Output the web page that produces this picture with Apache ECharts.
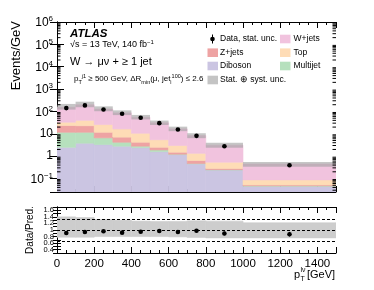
<!DOCTYPE html>
<html><head><meta charset="utf-8">
<script src="https://cdn.jsdelivr.net/npm/echarts@6/dist/echarts.min.js"></script>
<style>html,body{margin:0;padding:0;background:#fff}#c{width:374px;height:290px}</style>
</head><body><div id="c"></div>
<script>
// ---- data (Events/GeV per bin) ----
const binEdges = [0, 100, 200, 300, 400, 500, 600, 700, 800, 1000, 1500];
const dataVals = [141, 186, 123, 79, 52, 30, 15.6, 8.1, 2.78, 0.39];
const dataRelErr = [0.015, 0.015, 0.015, 0.02, 0.02, 0.025, 0.03, 0.05, 0.06, 0.08];
const diboson = [2.5, 3.8, 3.3, 2.8, 2.4, 1.6, 1.17, 0.45, 0.24, 0.045];
const multijet = [9.2, 7.9, 3.3, 1.4, 0.4, 0.3, 0.05, 0.02, 0.01, 0.002];
const zjets = [11.7, 11.3, 5.1, 2.9, 1.4, 0.6, 0.28, 0.17, 0.03, 0.005];
const topQuark = [9.6, 17, 14.3, 9.4, 6.4, 2.9, 1.5, 0.7, 0.26, 0.035];
const wjets = [122, 158, 102, 69.5, 44.4, 25.6, 13.6, 6.95, 2.57, 0.36];
const uncUp = [0.40, 0.38, 0.32, 0.30, 0.27, 0.26, 0.26, 0.28, 0.27, 0.22];
const uncDn = [0.22, 0.22, 0.20, 0.20, 0.20, 0.20, 0.21, 0.23, 0.24, 0.24];
const xTickLabels = [0, 200, 400, 600, 800, 1000, 1200, 1400];
const ratioRefLines = [0.67, 1, 1.33];

const FF = '"Liberation Sans", Arial, Helvetica, sans-serif';
const yMin = 0.025, yMax = 1e6;
const nb = dataVals.length;

function makeRect(fill, stroke) {
  return function (params, api) {
    const p0 = api.coord([api.value(0), api.value(3)]);
    const p1 = api.coord([api.value(1), api.value(2)]);
    const st = { fill: fill };
    if (stroke) { st.stroke = fill; st.lineWidth = 0.6; }
    return { type: 'rect', shape: { x: p0[0], y: p0[1], width: p1[0] - p0[0], height: p1[1] - p0[1] }, style: st };
  };
}
function pointItem(params, api) {
  const c = api.coord([api.value(0), api.value(1)]);
  const a = api.coord([api.value(0), api.value(2)]);
  const b = api.coord([api.value(0), api.value(3)]);
  return { type: 'group', children: [
    { type: 'line', shape: { x1: c[0], y1: a[1], x2: c[0], y2: b[1] }, style: { stroke: '#000', lineWidth: 1 } },
    { type: 'circle', shape: { cx: c[0], cy: c[1], r: 2.3 }, style: { fill: '#000' } }
  ]};
}

const layers = [
  { name: 'Diboson', vals: diboson, color: '#cbc5e2' },
  { name: 'Multijet', vals: multijet, color: '#b6e0bd' },
  { name: 'Z+jets', vals: zjets, color: '#eea3a3' },
  { name: 'Top', vals: topQuark, color: '#fedcb6' },
  { name: 'W+jets', vals: wjets, color: '#f1c3de' }
];
const cum = new Array(nb).fill(0);
const series = [];
layers.forEach((L, li) => {
  const d = [];
  for (let i = 0; i < nb; i++) {
    const lo = li === 0 ? yMin : cum[i];
    cum[i] += L.vals[i];
    d.push([binEdges[i], binEdges[i + 1], lo, cum[i]]);
  }
  series.push({ type: 'custom', name: L.name, xAxisIndex: 0, yAxisIndex: 0, renderItem: makeRect(L.color, true), data: d, z: 2, clip: true, silent: true });
});
const pred = cum.slice();

const bandMain = [], bandRatio = [], ptsMain = [], ptsRatio = [];
for (let i = 0; i < nb; i++) {
  bandMain.push([binEdges[i], binEdges[i + 1], pred[i] * (1 - uncDn[i]), pred[i] * (1 + uncUp[i])]);
  bandRatio.push([binEdges[i], binEdges[i + 1], 1 - uncDn[i], 1 + uncUp[i]]);
  const xc = (binEdges[i] + binEdges[i + 1]) / 2;
  ptsMain.push([xc, dataVals[i], dataVals[i] * (1 - dataRelErr[i]), dataVals[i] * (1 + dataRelErr[i])]);
  const r = dataVals[i] / pred[i];
  ptsRatio.push([xc, r, r * (1 - dataRelErr[i]), r * (1 + dataRelErr[i])]);
}
series.push({ type: 'custom', xAxisIndex: 0, yAxisIndex: 0, renderItem: makeRect('rgba(160,160,160,0.6)', false), data: bandMain, z: 3, clip: true, silent: true });
series.push({ type: 'custom', xAxisIndex: 0, yAxisIndex: 0, renderItem: pointItem, data: ptsMain, z: 5, clip: true, silent: true });

// log minor ticks on main panel
const logMinor = [];
for (let k = -2; k < 6; k++) for (let m = 2; m <= 9; m++) { const v = m * Math.pow(10, k); if (v > yMin && v < yMax) logMinor.push([v]); }
series.push({ type: 'custom', xAxisIndex: 0, yAxisIndex: 0, silent: true, z: 6, data: logMinor,
  renderItem: function (params, api) {
    const l = api.coord([0, api.value(0)]), r = api.coord([1500, api.value(0)]);
    return { type: 'group', children: [
      { type: 'line', shape: { x1: l[0], y1: l[1], x2: l[0] + 3.5, y2: l[1] }, style: { stroke: '#000', lineWidth: 1 } },
      { type: 'line', shape: { x1: r[0], y1: r[1], x2: r[0] - 3.5, y2: r[1] }, style: { stroke: '#000', lineWidth: 1 } }
    ]};
  }, encode: { y: 0 } });

// ratio
series.push({ type: 'custom', xAxisIndex: 2, yAxisIndex: 2, renderItem: makeRect('#cdcdcd', true), data: bandRatio, z: 2, clip: true, silent: true,
  markLine: { silent: true, symbol: ['none', 'none'], label: { show: false }, animation: false,
    lineStyle: { type: [3, 2], color: '#000', width: 1 }, data: ratioRefLines.map(v => ({ yAxis: v })) } });
series.push({ type: 'custom', xAxisIndex: 2, yAxisIndex: 2, renderItem: pointItem, data: ptsRatio, z: 5, clip: true, silent: true });

const axLine = { show: true, lineStyle: { color: '#000', width: 1 } };
function xAx(grid, pos, labels) {
  return { type: 'value', gridIndex: grid, position: pos, min: 0, max: 1500, interval: 200,
    axisLine: axLine, splitLine: { show: false },
    axisTick: { show: true, inside: true, length: 6, lineStyle: { color: '#000' } },
    minorTick: { show: true, splitNumber: 4, length: 3, lineStyle: { color: '#000' } },
    axisLabel: labels ? { show: true, margin: 5, fontSize: 11.5, fontFamily: FF, color: '#000', showMaxLabel: false,
      formatter: v => xTickLabels.indexOf(v) >= 0 ? String(v) : '' } : { show: false } };
}
function supFmt(v) {
  const lg = Math.log10(v), e = Math.round(lg);
  if (Math.abs(lg - e) > 1e-6) return '';
  if (e === 0) return '{b|1}';
  if (e === 1) return '{b|10}';
  return '{b|10}{s|' + (e < 0 ? '\u2212' + (-e) : e) + '}';
}
const option = {
  animation: false,
  backgroundColor: '#fff',
  grid: [
    { left: 57, top: 22, width: 279, height: 170 },
    { left: 57, top: 207, width: 279, height: 46 }
  ],
  xAxis: [xAx(0, 'bottom', false), xAx(0, 'top', false), xAx(1, 'bottom', true), xAx(1, 'top', false)],
  yAxis: [
    { type: 'log', gridIndex: 0, position: 'left', min: yMin, max: yMax, logBase: 10,
      axisLine: axLine, splitLine: { show: false },
      axisTick: { show: true, inside: true, length: 7, lineStyle: { color: '#000' } },
      axisLabel: { show: true, margin: 4, showMinLabel: false, color: '#000', formatter: supFmt,
        rich: { b: { fontSize: 12, fontFamily: FF, color: '#000', verticalAlign: 'bottom', padding: [0, 0, 0, 0] },
                s: { fontSize: 8, fontFamily: FF, color: '#000', verticalAlign: 'bottom', padding: [0, 0, 6, 0] } } } },
    { type: 'log', gridIndex: 0, position: 'right', min: yMin, max: yMax, logBase: 10,
      axisLine: axLine, splitLine: { show: false },
      axisTick: { show: true, inside: true, length: 7, lineStyle: { color: '#000' } }, axisLabel: { show: false } },
    { type: 'value', gridIndex: 1, position: 'left', min: 0.3, max: 1.7, interval: 0.1,
      axisLine: axLine, splitLine: { show: false },
      axisTick: { show: true, inside: true, length: 4, lineStyle: { color: '#000' } },
      axisLabel: { show: true, margin: 3, fontSize: 7.5, fontFamily: FF, color: '#000', showMinLabel: false, showMaxLabel: false,
        formatter: v => { const t = Math.round(v * 10); if (t % 2 !== 0) return ''; return t === 10 ? '1' : (t / 10).toFixed(1); } } },
    { type: 'value', gridIndex: 1, position: 'right', min: 0.3, max: 1.7, interval: 0.1,
      axisLine: axLine, splitLine: { show: false },
      axisTick: { show: true, inside: true, length: 4, lineStyle: { color: '#000' } }, axisLabel: { show: false } }
  ],
  series: series,
  graphic: []
};

const g = option.graphic;
function txt(x, y, text, font, extra) {
  const st = Object.assign({ text: text, font: font, fill: '#000', align: 'left', verticalAlign: 'middle', textAlign: 'left', textVerticalAlign: 'middle' }, extra || {});
  g.push({ type: 'text', x: x, y: y, silent: true, z: 100, style: st });
}
g.push({ type: 'text', x: 16, y: 21, rotation: Math.PI / 2, silent: true, z: 100,
  style: { text: 'Events/GeV', font: '13px ' + FF, fill: '#000', align: 'right', verticalAlign: 'middle', textAlign: 'right', textVerticalAlign: 'middle' } });
g.push({ type: 'text', x: 30, y: 230, rotation: Math.PI / 2, silent: true, z: 100,
  style: { text: 'Data/Pred.', font: '10px ' + FF, fill: '#000', align: 'center', verticalAlign: 'middle', textAlign: 'center', textVerticalAlign: 'middle' } });
txt(70, 34, 'ATLAS', 'italic bold 11.5px ' + FF);
txt(70, 45, '\u221As = 13 TeV, 140 fb{sp|\u22121}', '9px ' + FF, { rich: {
  sp: { fontSize: 6, fontFamily: FF, fill: '#000', verticalAlign: 'bottom', padding: [0, 0, 5, 0] } } });
txt(70, 62, 'W \u2192 \u03BC\u03BD + \u2265 1 jet', '11px ' + FF);
const rs = {
  n: { fontSize: 8, fontFamily: FF, fill: '#000', verticalAlign: 'bottom', padding: [0, 0, 2, 0] },
  sb: { fontSize: 5.5, fontFamily: FF, fill: '#000', verticalAlign: 'bottom', padding: [0, 0, 0, 0] },
  sp: { fontSize: 5.5, fontFamily: FF, fill: '#000', verticalAlign: 'bottom', padding: [0, 0, 6, 0] }
};
txt(74, 79, '{n|p}{sb|T}{sp|j1}{n| \u2265 500 GeV, \u0394R}{sb|min}{n|(\u03BC, jet}{sb|i}{sp|100}{n|) \u2264 2.6}', '8px ' + FF, { rich: rs });
txt(294, 274.5, 'p', '11px ' + FF);
txt(300.5, 270, 'l\u03BD', '7px ' + FF);
txt(300.5, 279, 'T', '7px ' + FF);
txt(307, 274.5, '[GeV]', '11px ' + FF);

const legFont = '8.5px ' + FF;
const rowY = [39, 52.7, 66, 80];
function box(x, y, fill) { g.push({ type: 'rect', silent: true, z: 100, shape: { x: x, y: y - 4.3, width: 10.5, height: 8.6 }, style: { fill: fill } }); }
g.push({ type: 'line', silent: true, z: 100, shape: { x1: 212.5, y1: rowY[0] - 4.5, x2: 212.5, y2: rowY[0] + 4.5 }, style: { stroke: '#000', lineWidth: 1 } });
g.push({ type: 'circle', silent: true, z: 100, shape: { cx: 212.5, cy: rowY[0], r: 2.3 }, style: { fill: '#000' } });
txt(220, rowY[0], 'Data, stat. unc.', legFont);
box(280, rowY[0], layers[4].color); txt(293.5, rowY[0], 'W+jets', legFont);
box(207.5, rowY[1], layers[2].color); txt(220, rowY[1], 'Z+jets', legFont);
box(280, rowY[1], layers[3].color); txt(293.5, rowY[1], 'Top', legFont);
box(207.5, rowY[2], layers[0].color); txt(220, rowY[2], 'Diboson', legFont);
box(280, rowY[2], layers[1].color); txt(293.5, rowY[2], 'Multijet', legFont);
box(207.5, rowY[3], '#c4c4c4'); txt(220, rowY[3], 'Stat. \u2295 syst. unc.', legFont);

const chart = echarts.init(document.getElementById('c'));
chart.setOption(option);
</script></body></html>
